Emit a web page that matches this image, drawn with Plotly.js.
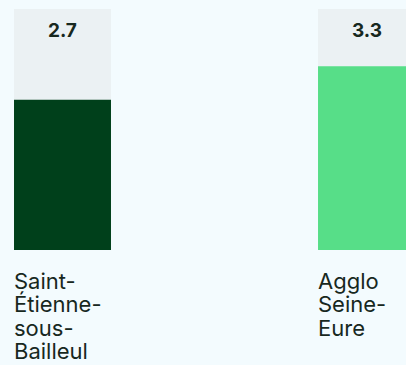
<!DOCTYPE html>
<html>
<head>
<meta charset="utf-8">
<script src="https://cdn.plot.ly/plotly-3.0.1.min.js"></script>
<style>html,body{margin:0;padding:0;background:#f3fbfe;}#chart{width:406px;height:365px;}</style>
</head>
<body>
<div id="chart"></div>
<script>
const categories = ["Saint-\nÉtienne-\nsous-\nBailleul", "Agglo\nSeine-\nEure"];
const values = [2.7, 3.3];
const valueLabels = ["2.7", "3.3"];
const maxValue = 4.33;
const barColors = ["#00401b", "#57de88"];

const xs = categories.map((_, i) => i);
const barWidth = 0.319;
const textColor = "#17281e";

const bgTrace = {
  type: "bar", x: xs, y: values.map(() => maxValue), width: barWidth,
  marker: {color: "#ebf1f3"}, hoverinfo: "skip", showlegend: false
};
const valTrace = {
  type: "bar", x: xs, y: values, width: barWidth,
  marker: {color: barColors}, hoverinfo: "skip", showlegend: false
};

const annotations = [];
xs.forEach((x, i) => {
  annotations.push({
    x: x, y: maxValue, xref: "x", yref: "y", text: valueLabels[i],
    showarrow: false, xanchor: "center", yanchor: "middle", yshift: -21,
    font: {family: "Inter, sans-serif", size: 19, color: textColor, weight: 700}
  });
  categories[i].split("\n").forEach((line, k) => {
    annotations.push({
      x: x - barWidth / 2, y: 0, xref: "x", yref: "y", text: line,
      showarrow: false, xanchor: "left", yanchor: "middle",
      yshift: -(31 + k * 23.4), xshift: -2,
      font: {family: "Inter, sans-serif", size: 22, color: textColor}
    });
  });
});

Plotly.newPlot("chart", [bgTrace, valTrace], {
  width: 406, height: 365,
  margin: {l: 0, r: 0, t: 9, b: 115},
  paper_bgcolor: "#f3fbfe", plot_bgcolor: "#f3fbfe",
  barmode: "overlay",
  xaxis: {range: [-0.2056, 1.1299], visible: false, fixedrange: true},
  yaxis: {range: [0, maxValue], visible: false, fixedrange: true},
  annotations: annotations
}, {displayModeBar: false, staticPlot: true});
</script>
</body>
</html>
